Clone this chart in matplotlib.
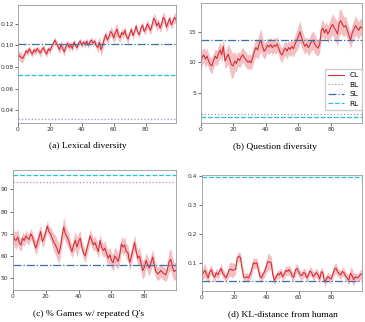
import matplotlib
matplotlib.use("Agg")
import matplotlib.pyplot as plt
import numpy as np

steps = np.arange(100)

# (a) lexical diversity
a_cl = [0.092, 0.090, 0.089, 0.088, 0.091, 0.095, 0.093, 0.097, 0.094, 0.092,
        0.096, 0.094, 0.097, 0.095, 0.093, 0.096, 0.098, 0.094, 0.092, 0.097,
        0.095, 0.099, 0.101, 0.105, 0.102, 0.099, 0.096, 0.101, 0.097, 0.094,
        0.099, 0.102, 0.098, 0.101, 0.097, 0.103, 0.100, 0.098, 0.102, 0.104,
        0.100, 0.103, 0.101, 0.104, 0.100, 0.103, 0.105, 0.102, 0.104, 0.100,
        0.098, 0.103, 0.096, 0.100, 0.106, 0.110, 0.105, 0.108, 0.113, 0.111,
        0.107, 0.112, 0.115, 0.109, 0.107, 0.112, 0.110, 0.114, 0.108, 0.106,
        0.111, 0.115, 0.109, 0.113, 0.118, 0.112, 0.110, 0.116, 0.119, 0.113,
        0.115, 0.120, 0.117, 0.114, 0.119, 0.125, 0.123, 0.118, 0.121, 0.116,
        0.120, 0.126, 0.124, 0.117, 0.121, 0.125, 0.119, 0.122, 0.126, 0.124]
a_std = [0.004, 0.004, 0.005, 0.004, 0.003, 0.003, 0.003, 0.003, 0.003, 0.003,
         0.003, 0.003, 0.003, 0.003, 0.004, 0.003, 0.003, 0.003, 0.003, 0.003,
         0.003, 0.003, 0.003, 0.003, 0.003, 0.004, 0.004, 0.004, 0.004, 0.004,
         0.003, 0.003, 0.004, 0.003, 0.003, 0.003, 0.003, 0.003, 0.003, 0.003,
         0.003, 0.003, 0.003, 0.003, 0.003, 0.003, 0.003, 0.003, 0.003, 0.003,
         0.005, 0.005, 0.006, 0.005, 0.004, 0.004, 0.004, 0.004, 0.004, 0.005,
         0.005, 0.006, 0.006, 0.005, 0.004, 0.004, 0.004, 0.004, 0.004, 0.004,
         0.003, 0.003, 0.003, 0.003, 0.003, 0.003, 0.003, 0.003, 0.003, 0.003,
         0.004, 0.004, 0.004, 0.004, 0.004, 0.005, 0.005, 0.005, 0.004, 0.004,
         0.005, 0.005, 0.005, 0.005, 0.004, 0.004, 0.004, 0.004, 0.005, 0.004]
a_bl, a_sl, a_rl = 0.032, 0.101, 0.073

# (b) question diversity
b_cl = [10.0, 10.8, 11.2, 10.5, 11.0, 10.2, 9.6, 9.4, 10.3, 11.0,
        10.6, 11.4, 12.0, 11.2, 12.6, 10.2, 10.8, 11.3, 10.4, 9.6,
        9.4, 10.2, 9.8, 10.6, 10.3, 10.9, 11.2, 10.7, 10.4, 10.0,
        10.2, 9.9, 10.8, 11.8, 12.4, 12.0, 13.0, 13.6, 12.6, 11.8,
        12.1, 12.8, 12.5, 12.9, 12.4, 12.8, 12.6, 13.0, 12.2, 11.5,
        11.2, 11.9, 12.3, 11.8, 12.4, 12.1, 12.6, 12.2, 13.0, 13.6,
        14.2, 15.0, 14.0, 13.2, 12.6, 13.0, 12.4, 12.8, 13.4, 13.6,
        13.0, 12.6, 12.3, 12.8, 15.2, 15.6, 14.8, 15.4, 14.6, 15.1,
        15.8, 16.2, 15.6, 15.2, 14.6, 16.4, 16.8, 16.2, 15.8, 16.0,
        15.2, 14.4, 13.6, 14.8, 15.4, 16.0, 15.6, 15.2, 15.8, 15.6]
b_std = [1.2, 1.3, 1.2, 1.4, 1.3, 1.2, 1.2, 1.3, 1.2, 1.2,
         1.3, 1.4, 1.3, 1.2, 1.4, 1.3, 1.5, 1.7, 2.0, 2.2,
         2.0, 1.6, 1.3, 1.2, 1.2, 1.3, 1.2, 1.2, 1.3, 1.2,
         1.2, 1.2, 1.3, 1.4, 1.5, 1.6, 1.8, 1.9, 1.6, 1.3,
         1.2, 1.2, 1.3, 1.2, 1.2, 1.2, 1.3, 1.2, 1.2, 1.2,
         1.2, 1.2, 1.2, 1.3, 1.2, 1.2, 1.3, 1.4, 1.5, 1.7,
         1.8, 1.8, 1.6, 1.4, 1.3, 1.2, 1.3, 1.4, 1.5, 1.5,
         1.6, 1.4, 1.3, 1.3, 1.4, 1.4, 1.3, 1.3, 1.4, 1.5,
         1.6, 1.7, 1.8, 1.9, 2.0, 2.1, 2.0, 1.8, 1.6, 1.5,
         1.4, 1.3, 1.4, 1.5, 1.6, 1.6, 1.5, 1.4, 1.4, 1.3]
b_bl, b_sl, b_rl = 1.6, 13.6, 1.0

# (c) % games with repeated questions
c_cl = [70.0, 67.5, 67.0, 68.5, 66.0, 65.0, 68.0, 67.0, 69.0, 68.0,
        67.5, 70.0, 68.5, 66.0, 63.5, 66.0, 68.5, 71.0, 66.5, 68.0,
        70.5, 73.5, 71.0, 70.0, 68.0, 66.0, 65.0, 63.0, 61.0, 64.0,
        69.0, 73.0, 70.0, 68.5, 67.0, 64.0, 62.0, 65.0, 67.0, 64.0,
        66.5, 68.0, 64.0, 61.5, 60.0, 63.0, 66.0, 69.0, 67.0, 65.0,
        66.0, 64.0, 62.0, 67.0, 64.0, 62.5, 63.5, 61.0, 59.0, 60.5,
        58.0, 57.0, 60.0, 59.0, 57.5, 60.5, 65.5, 64.0, 65.0, 62.0,
        61.5, 57.0, 59.5, 63.0, 66.0, 62.0, 59.0, 60.0, 56.5, 53.5,
        55.0, 58.0, 56.0, 54.5, 57.0, 59.5, 56.0, 53.0, 52.0, 52.5,
        53.5, 52.5, 52.0, 51.5, 54.0, 57.5, 58.5, 55.0, 53.0, 53.5]
c_std = [3.0, 3.5, 4.0, 3.5, 3.0, 3.0, 3.0, 2.5, 2.5, 2.5,
         2.5, 2.5, 2.5, 3.0, 3.0, 3.5, 3.5, 3.0, 3.0, 3.0,
         2.5, 2.5, 2.5, 3.0, 3.5, 4.0, 4.5, 4.5, 4.5, 4.0,
         4.0, 4.5, 4.0, 3.5, 3.5, 3.0, 3.0, 3.5, 4.0, 4.5,
         4.0, 3.5, 3.0, 3.0, 3.0, 3.0, 3.0, 3.0, 3.0, 3.0,
         3.0, 3.0, 3.0, 3.0, 3.0, 3.0, 3.5, 3.5, 3.5, 3.5,
         3.5, 4.0, 4.0, 4.0, 3.5, 3.5, 3.5, 3.5, 3.5, 3.5,
         3.5, 3.5, 3.5, 3.5, 3.5, 3.5, 3.5, 4.0, 4.0, 4.0,
         4.0, 3.5, 3.5, 3.5, 3.5, 3.5, 3.5, 3.0, 3.0, 3.0,
         3.0, 3.0, 3.0, 3.0, 4.0, 4.5, 5.0, 4.5, 4.0, 4.0]
c_bl, c_sl, c_rl = 93.5, 55.8, 96.6

# (d) KL-distance from human
d_cl = [0.058, 0.068, 0.076, 0.062, 0.050, 0.072, 0.078, 0.060, 0.052, 0.068,
        0.060, 0.072, 0.082, 0.066, 0.058, 0.050, 0.062, 0.078, 0.080, 0.076,
        0.078, 0.080, 0.118, 0.124, 0.120, 0.080, 0.052, 0.050, 0.054, 0.050,
        0.062, 0.078, 0.102, 0.098, 0.102, 0.080, 0.056, 0.050, 0.062, 0.072,
        0.090, 0.106, 0.104, 0.102, 0.060, 0.042, 0.052, 0.064, 0.060, 0.070,
        0.054, 0.062, 0.076, 0.072, 0.078, 0.070, 0.056, 0.052, 0.078, 0.082,
        0.070, 0.060, 0.058, 0.068, 0.066, 0.050, 0.060, 0.074, 0.068, 0.054,
        0.062, 0.068, 0.060, 0.046, 0.072, 0.066, 0.036, 0.044, 0.054, 0.050,
        0.046, 0.060, 0.078, 0.084, 0.072, 0.064, 0.060, 0.072, 0.068, 0.056,
        0.050, 0.042, 0.066, 0.058, 0.044, 0.054, 0.050, 0.052, 0.060, 0.064]
d_std = [0.018, 0.022, 0.024, 0.020, 0.018, 0.016, 0.016, 0.016, 0.015, 0.015,
         0.015, 0.015, 0.016, 0.016, 0.015, 0.015, 0.016, 0.022, 0.024, 0.026,
         0.022, 0.018, 0.016, 0.016, 0.016, 0.020, 0.016, 0.015, 0.015, 0.015,
         0.016, 0.020, 0.020, 0.018, 0.018, 0.020, 0.018, 0.015, 0.015, 0.018,
         0.024, 0.030, 0.026, 0.022, 0.020, 0.016, 0.015, 0.015, 0.015, 0.015,
         0.015, 0.015, 0.016, 0.016, 0.016, 0.016, 0.015, 0.015, 0.016, 0.016,
         0.016, 0.015, 0.015, 0.015, 0.015, 0.015, 0.015, 0.015, 0.015, 0.015,
         0.015, 0.015, 0.015, 0.015, 0.015, 0.015, 0.016, 0.015, 0.015, 0.015,
         0.015, 0.016, 0.018, 0.018, 0.016, 0.015, 0.015, 0.015, 0.015, 0.015,
         0.015, 0.016, 0.022, 0.026, 0.022, 0.016, 0.015, 0.015, 0.016, 0.016]
d_sl, d_rl = 0.040, 0.397

captions = ["(a) Lexical diversity", "(b) Question diversity",
            "(c) % Games w/ repeated Q's", "(d) KL-distance from human"]

cl_color = "#d62f3a"
bl_color = "#a58fcf"
sl_color = "#3c6eae"
rl_color = "#1ec4d4"

W, H = 365, 322
fig = plt.figure(figsize=(W / 100, H / 100), dpi=100)


def add_panel(l, r, t, b):
    return fig.add_axes([l / W, 1 - b / H, (r - l) / W, (b - t) / H])


panels = [
    (add_panel(18, 176, 5, 123), a_cl, a_std, a_bl, a_sl, a_rl, (0.028, 0.1375), [0.04, 0.06, 0.08, 0.10, 0.12]),
    (add_panel(200.5, 362, 3, 123), b_cl, b_std, b_bl, b_sl, b_rl, (0.05, 19.7), [5, 10, 15]),
    (add_panel(12.7, 175.7, 170, 290), c_cl, c_std, c_bl, c_sl, c_rl, (44.7, 98.7), [50, 60, 70, 80, 90]),
    (add_panel(201.7, 361.7, 175, 290.7), d_cl, d_std, None, d_sl, d_rl, (0.006, 0.403), [0.1, 0.2, 0.3, 0.4]),
]

for ax, cl, std, bl, sl, rl, ylim, yt in panels:
    cl = np.array(cl)
    std = np.array(std)
    ax.fill_between(steps, cl - std, cl + std, color=cl_color, alpha=0.3, lw=0)
    ax.plot(steps, cl, color=cl_color, lw=0.8, label="CL")
    if bl is not None:
        ax.axhline(bl, color=bl_color, ls=":", lw=0.9, label="BL")
    ax.axhline(sl, color=sl_color, ls="-.", lw=0.9, label="SL")
    ax.axhline(rl, color=rl_color, ls="--", lw=0.9, label="RL")
    ax.set_xlim(0, 99)
    ax.set_ylim(*ylim)
    ax.set_xticks([0, 20, 40, 60, 80])
    ax.set_yticks(yt)
    ax.tick_params(labelsize=4.3, length=2, width=0.5, pad=1.2, colors="#333333")
    for s in ax.spines.values():
        s.set_color("#999999")
        s.set_linewidth(0.6)

# legend box sits with its lower-right corner near (362, 110) px
axb = panels[1][0]
axb.legend(loc="lower right", bbox_to_anchor=(1.0, 13 / 120), fontsize=5.3,
           handlelength=2.2, frameon=True, borderpad=0.45, labelspacing=0.45,
           handletextpad=0.7, edgecolor="#cccccc", framealpha=1, borderaxespad=0)

cap_pos = [(88, 146), (275, 147), (89, 314), (283, 314)]
for (x, y), txt in zip(cap_pos, captions):
    fig.text(x / W, 1 - y / H, txt, ha="center", va="center",
             family="Liberation Serif", fontsize=6.8)

fig.savefig("out.png", dpi=100)
